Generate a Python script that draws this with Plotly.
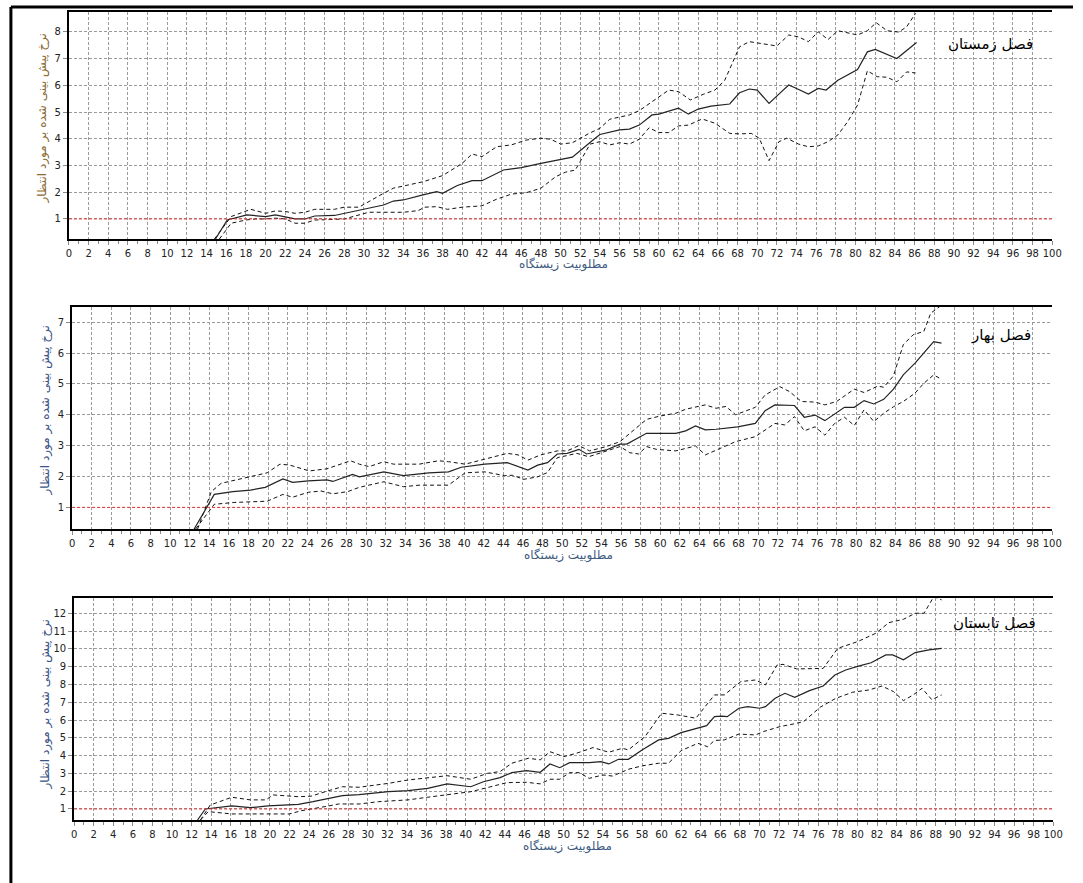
import plotly.graph_objects as go

W, H = 1083, 883

# ---------------- data ----------------
habitat_ticks = list(range(0, 101, 2))
reference_level = 1

# winter (فصل زمستان)
winter_mid_x = [14.9, 16.1, 18.1, 19, 20, 21, 22, 23, 24, 25,
                27, 28, 29.5, 32, 33, 34, 36, 37.4, 38, 39.5,
                41, 42, 44.2, 46, 48, 50, 51.2, 53.3, 54, 56,
                57, 58, 59.3, 60, 62, 63, 64, 65.3, 67.2, 68.2,
                69.2, 70, 71.2, 72.2, 73.2, 74, 75.2, 76.2, 77, 78.2,
                80.2, 81.2, 82, 84.2, 86.2]
winter_mid_y = [0.25, 0.96, 1.15, 1.12, 1.09, 1.15, 1.08, 1.0, 1.0, 1.11,
                1.13, 1.21, 1.31, 1.52, 1.67, 1.71, 1.9, 2.02, 1.96, 2.25,
                2.43, 2.43, 2.83, 2.92, 3.08, 3.24, 3.31, 3.95, 4.16, 4.33,
                4.36, 4.51, 4.89, 4.92, 5.14, 4.92, 5.11, 5.22, 5.3, 5.72,
                5.86, 5.82, 5.32, 5.67, 6.01, 5.88, 5.67, 5.88, 5.82, 6.19,
                6.59, 7.25, 7.34, 7.0, 7.6]
winter_hi_x = [14.8, 16.5, 18.5, 20, 21, 22, 23, 24, 25, 27,
               28, 29.5, 32, 33, 36, 38, 40, 41, 42, 43.5,
               45, 46.5, 48, 49, 50, 51.2, 52.9, 54, 55, 57,
               58, 61, 62, 63.2, 64.5, 65.7, 66.7, 68.2, 69.2, 70.2,
               72, 73.2, 74.2, 75.2, 76.2, 77.2, 78.2, 80.2, 81.2, 82.1,
               83.2, 84.4, 85.2, 86.1]
winter_hi_y = [0.25, 1.09, 1.36, 1.21, 1.3, 1.28, 1.21, 1.25, 1.36, 1.36,
               1.44, 1.44, 1.96, 2.15, 2.39, 2.62, 3.08, 3.43, 3.33, 3.7,
               3.77, 3.95, 4.02, 3.98, 3.8, 3.85, 4.2, 4.39, 4.73, 4.89,
               5.05, 5.82, 5.76, 5.45, 5.66, 5.82, 6.19, 7.44, 7.63, 7.57,
               7.47, 7.88, 7.81, 7.63, 8.0, 7.71, 8.04, 7.88, 8.04, 8.34,
               8.04, 7.99, 8.19, 8.69]
winter_lo_x = [15.3, 16.5, 18, 19, 20, 21, 22, 23, 24, 25,
               26, 28, 29.5, 30.5, 34, 35.5, 36.2, 37.4, 38.5, 40,
               42, 43.5, 45, 46.5, 48, 49.5, 50.5, 51.5, 53, 54,
               55, 56, 57, 58, 59, 60, 61, 62, 63, 64.4,
               65.7, 67.2, 68.2, 69.4, 70.2, 71.2, 72.2, 73, 74.2, 75.2,
               76.2, 77.2, 78.2, 79.2, 80.2, 81.2, 82.2, 83.2, 84.2, 85.2,
               86.1]
winter_lo_y = [0.25, 0.84, 0.96, 1.0, 1.0, 1.03, 1.0, 0.84, 0.84, 0.96,
               0.97, 1.0, 1.15, 1.25, 1.25, 1.31, 1.44, 1.46, 1.36, 1.44,
               1.49, 1.74, 1.93, 1.98, 2.15, 2.58, 2.75, 2.83, 3.8, 3.89,
               3.77, 3.85, 3.8, 3.98, 4.41, 4.23, 4.23, 4.48, 4.51, 4.74,
               4.58, 4.2, 4.18, 4.2, 4.02, 3.18, 3.89, 4.02, 3.8, 3.7,
               3.73, 3.89, 4.14, 4.64, 5.26, 6.54, 6.32, 6.3, 6.13, 6.5,
               6.46]

# spring (فصل بهار)
spring_mid_x = [12.45, 14.5, 16.4, 18.2, 19.7, 21.5, 22.5, 24.1, 26, 26.6,
                28.6, 29.3, 31.8, 33.8, 36.4, 38.4, 39.7, 42.1, 44.4, 46.5,
                47.5, 48.5, 49.5, 50.5, 51.7, 52.5, 54.5, 55.9, 56.6, 58.6,
                61.6, 62.6, 63.6, 64.6, 65.7, 67.9, 69.7, 70.7, 71.7, 73.7,
                74.7, 75.8, 76.8, 77.8, 78.8, 79.8, 80.8, 81.8, 82.8, 83.8,
                84.8, 86, 86.9, 87.9, 88.7]
spring_mid_y = [0.3, 1.42, 1.51, 1.56, 1.65, 1.92, 1.81, 1.86, 1.89, 1.84,
                2.07, 1.99, 2.15, 2.03, 2.12, 2.15, 2.3, 2.4, 2.45, 2.21,
                2.37, 2.45, 2.73, 2.75, 2.88, 2.73, 2.86, 3.05, 3.05, 3.4,
                3.4, 3.48, 3.64, 3.51, 3.53, 3.61, 3.72, 4.13, 4.32, 4.3,
                3.92, 3.99, 3.81, 4.03, 4.24, 4.24, 4.46, 4.35, 4.5, 4.83,
                5.29, 5.67, 5.99, 6.37, 6.32]
spring_hi_x = [12.8, 14.2, 15.2, 18.2, 19.9, 21.2, 22.2, 24.2, 26, 28.4,
               29.3, 30.3, 31.8, 32.8, 35.4, 37.4, 38.4, 40.1, 42.4, 44.4,
               45.5, 46.5, 47.8, 49.5, 50.5, 51.7, 52.8, 54.5, 55.9, 57.3,
               58.6, 60, 61.6, 62.6, 64.6, 65.7, 66.7, 67.7, 69.7, 70.7,
               72.2, 73.2, 74.4, 75.8, 76.8, 78, 79.8, 80.8, 82.2, 82.8,
               83.8, 84.8, 85.8, 86.9, 87.6, 88.5]
spring_hi_y = [0.3, 1.51, 1.78, 1.99, 2.12, 2.4, 2.37, 2.18, 2.25, 2.51,
               2.4, 2.32, 2.48, 2.4, 2.4, 2.51, 2.48, 2.4, 2.59, 2.75,
               2.7, 2.53, 2.7, 2.83, 2.83, 3.0, 2.83, 2.97, 3.13, 3.51,
               3.85, 3.96, 4.05, 4.18, 4.32, 4.21, 4.27, 4.0, 4.24, 4.64,
               4.91, 4.75, 4.43, 4.41, 4.32, 4.43, 4.83, 4.72, 4.93, 4.89,
               5.26, 6.27, 6.59, 6.7, 7.29, 7.5]
spring_lo_x = [12.6, 14.5, 16.5, 19.2, 19.9, 21.5, 22.5, 24.1, 25.4, 26.6,
               28.1, 29.3, 31.8, 33.8, 35.4, 38.4, 40.1, 42.1, 44.1, 44.9,
               46.1, 47.5, 48.5, 49.5, 51.5, 52.7, 54.5, 55.9, 56.9, 57.8,
               58.6, 59.6, 61.6, 63.6, 64.6, 65.7, 67.7, 69.7, 71.7, 72.7,
               73.7, 74.7, 75.8, 76.8, 77.8, 78.8, 79.8, 80.8, 81.8, 82.8,
               83.8, 84.8, 86, 86.9, 87.9, 88.7]
spring_lo_y = [0.3, 1.1, 1.16, 1.2, 1.2, 1.42, 1.33, 1.49, 1.53, 1.44,
               1.51, 1.65, 1.83, 1.67, 1.72, 1.72, 2.12, 2.15, 2.03, 2.04,
               1.91, 1.99, 2.13, 2.61, 2.75, 2.64, 2.83, 2.97, 2.77, 2.73,
               2.97, 2.88, 2.83, 2.99, 2.7, 2.85, 3.13, 3.29, 3.72, 3.67,
               3.94, 3.48, 3.61, 3.34, 3.72, 3.92, 3.65, 4.16, 3.78, 4.05,
               4.26, 4.43, 4.7, 5.02, 5.29, 5.15]

# summer (فصل تابستان)
summer_mid_x = [12.6, 13.4, 16.1, 18, 19.8, 22.9, 24.4, 26, 27.4, 29.1,
                32.1, 34.1, 36.1, 38.1, 39.2, 40.5, 41.8, 43.5, 44.7, 46.2,
                47.6, 48.6, 49.6, 50.6, 52.6, 53.8, 54.6, 55.6, 56.6, 58,
                59.7, 60.7, 62, 63.4, 64.6, 65.4, 66.1, 66.7, 67.9, 68.8,
                70, 70.6, 71.6, 72.6, 73.6, 75.1, 76.5, 77.7, 78.8, 80.2,
                81.4, 82.9, 83.6, 84.7, 85.9, 87.3, 88.6]
summer_mid_y = [0.38, 1.0, 1.17, 1.07, 1.17, 1.26, 1.41, 1.6, 1.75, 1.81,
                1.97, 2.03, 2.16, 2.41, 2.35, 2.25, 2.53, 2.76, 3.04, 3.15,
                3.06, 3.53, 3.32, 3.6, 3.6, 3.66, 3.53, 3.79, 3.79, 4.32,
                4.88, 4.97, 5.29, 5.5, 5.68, 6.19, 6.22, 6.19, 6.66, 6.75,
                6.66, 6.75, 7.22, 7.5, 7.28, 7.65, 7.91, 8.53, 8.81, 9.04,
                9.22, 9.66, 9.66, 9.38, 9.79, 9.94, 10.03]
summer_hi_x = [12.9, 13.9, 16.1, 18, 19.6, 20.3, 22.9, 24.2, 26, 27.4,
               29.1, 32.1, 34.1, 36.1, 38.1, 40.5, 42.2, 43.5, 44.7, 46.4,
               47.6, 48.6, 50, 51.3, 53, 54.6, 56, 56.6, 58.3, 60,
               61.7, 63.5, 65.4, 66.4, 68.1, 69.6, 70.6, 71.8, 72.4, 73.8,
               75.1, 76.5, 78, 80, 81.9, 83.2, 84.7, 85.9, 86.8, 87.8,
               88.6]
summer_hi_y = [0.38, 1.22, 1.66, 1.51, 1.51, 1.79, 1.69, 1.72, 2.03, 2.25,
               2.22, 2.44, 2.63, 2.76, 2.87, 2.67, 3.0, 3.1, 3.57, 3.85,
               3.76, 4.22, 3.94, 4.13, 4.45, 4.19, 4.41, 4.32, 5.06, 6.38,
               6.28, 6.1, 7.41, 7.41, 8.16, 8.25, 7.97, 9.09, 9.13, 8.87,
               8.9, 8.9, 10.03, 10.4, 10.88, 11.47, 11.66, 12.0, 12.0, 12.93,
               12.75]
summer_lo_x = [12.9, 13.7, 16.1, 18.3, 22, 23.2, 24.4, 26, 27, 29.1,
               31.1, 34.1, 36.1, 38.1, 40.5, 42.2, 44.2, 46.2, 47.6, 48.6,
               49.6, 50.6, 51.6, 52.6, 54, 55, 56.6, 58, 59.7, 60.7,
               62, 63.7, 64.7, 65.4, 66.4, 67.9, 69.6, 70.4, 72.1, 73.5,
               74.5, 76.2, 77.8, 79.5, 81.2, 82.5, 83.7, 84.7, 85.7, 86.6,
               87.6, 88.6]
summer_lo_y = [0.38, 0.85, 0.72, 0.72, 0.72, 0.9, 1.0, 1.17, 1.28, 1.28,
               1.41, 1.51, 1.66, 1.82, 1.97, 2.2, 2.48, 2.5, 2.41, 2.67,
               2.67, 3.04, 3.04, 2.72, 2.91, 2.85, 3.23, 3.42, 3.57, 3.57,
               4.28, 4.69, 4.5, 4.85, 4.88, 5.21, 5.16, 5.35, 5.63, 5.78,
               5.91, 6.72, 7.22, 7.56, 7.69, 7.91, 7.59, 7.09, 7.41, 7.78,
               7.14, 7.41]

season_names = ["فصل زمستان", "فصل بهار", "فصل تابستان"]
y_title = "نرخ پیش بینی شده بر مورد انتظار"
x_title = "مطلوبیت زیستگاه"

# ---------------- layout helpers ----------------
FONT = "DejaVu Sans"

panels = [
    dict(series=[(winter_mid_x, winter_mid_y), (winter_hi_x, winter_hi_y), (winter_lo_x, winter_lo_y)],
         box=(66.7, 1062, 12, 239), yrange=[0.25, 8.74], ytop=8,
         ytitle_pos=(40, 119), ytitle_color="#8a6a30",
         xtitle_pos=(567, 264), season_pos=(1045, 44)),
    dict(series=[(spring_mid_x, spring_mid_y), (spring_hi_x, spring_hi_y), (spring_lo_x, spring_lo_y)],
         box=(70, 1062, 306.7, 529), yrange=[0.3, 7.5], ytop=7,
         ytitle_pos=(43, 410), ytitle_color="#3b5488",
         xtitle_pos=(572, 555), season_pos=(1043, 335)),
    dict(series=[(summer_mid_x, summer_mid_y), (summer_hi_x, summer_hi_y), (summer_lo_x, summer_lo_y)],
         box=(72, 1063, 598.3, 820), yrange=[0.38, 12.84], ytop=12,
         ytitle_pos=(43, 704), ytitle_color="#3b5488",
         xtitle_pos=(571, 846), season_pos=(1048, 623)),
]

fig = go.Figure()
layout = dict(width=W, height=H, autosize=False,
              margin=dict(l=0, r=0, t=0, b=0),
              paper_bgcolor="white", plot_bgcolor="white",
              showlegend=False, font=dict(family=FONT, size=10, color="#222222"))
annotations = []
shapes = []

grid_color = "#9a9a9a"

for i, p in enumerate(panels, start=1):
    sfx = "" if i == 1 else str(i)
    xa, ya = "x" + sfx, "y" + sfx
    x0, x1, y0, y1 = p["box"]

    layout["xaxis" + sfx] = dict(
        domain=[x0 / W, x1 / W], range=[0, 100], anchor=ya,
        tickmode="array", tickvals=habitat_ticks, ticktext=[str(t) for t in habitat_ticks],
        showgrid=True, gridcolor=grid_color, griddash="3px,2px", gridwidth=1,
        showline=True, linecolor="black", linewidth=2, mirror=True,
        ticks="outside", ticklen=4, tickcolor="#8a8a8a", tickwidth=1,
        minor=dict(dtick=1, ticks="outside", ticklen=3, tickcolor="#8a8a8a", showgrid=False),
        tickfont=dict(family=FONT, size=10, color="#222222"),
        zeroline=False, fixedrange=True,
    )
    layout["yaxis" + sfx] = dict(
        domain=[1 - y1 / H, 1 - y0 / H], range=p["yrange"], anchor=xa,
        tickmode="array", tickvals=list(range(1, p["ytop"] + 1)),
        showgrid=True, gridcolor=grid_color, griddash="3px,2px", gridwidth=1,
        showline=True, linecolor="black", linewidth=2, mirror=False,
        ticks="outside", ticklen=4, tickcolor="#8a8a8a", tickwidth=1,
        tickfont=dict(family=FONT, size=10, color="#222222"),
        zeroline=False, fixedrange=True,
    )

    # expected-rate reference line
    shapes.append(dict(type="line", xref=xa + " domain", yref=ya,
                       x0=0, x1=1, y0=reference_level, y1=reference_level,
                       line=dict(color="#e8393a", width=1, dash="3px,2px"), layer="above"))

    (mx, my), (hx, hy), (lx, ly) = p["series"]
    fig.add_trace(go.Scatter(x=hx, y=hy, xaxis=xa, yaxis=ya, mode="lines",
                             line=dict(color="#111111", width=1, dash="4px,3px"),
                             hoverinfo="skip"))
    fig.add_trace(go.Scatter(x=lx, y=ly, xaxis=xa, yaxis=ya, mode="lines",
                             line=dict(color="#111111", width=1, dash="4px,3px"),
                             hoverinfo="skip"))
    fig.add_trace(go.Scatter(x=mx, y=my, xaxis=xa, yaxis=ya, mode="lines",
                             line=dict(color="#222222", width=1.2),
                             hoverinfo="skip"))

    tx, ty = p["ytitle_pos"]
    annotations.append(dict(text=y_title, xref="paper", yref="paper",
                            x=tx / W, y=1 - ty / H, xanchor="center", yanchor="middle",
                            textangle=-90, showarrow=False,
                            font=dict(family=FONT, size=12, color=p["ytitle_color"])))
    tx, ty = p["xtitle_pos"]
    annotations.append(dict(text=x_title, xref="paper", yref="paper",
                            x=tx / W, y=1 - ty / H, xanchor="center", yanchor="middle",
                            showarrow=False,
                            font=dict(family=FONT, size=12, color="#3d5a80")))
    tx, ty = p["season_pos"]
    annotations.append(dict(text=season_names[i - 1], xref="paper", yref="paper",
                            x=tx / W, y=1 - ty / H, xanchor="right", yanchor="middle",
                            showarrow=False,
                            font=dict(family=FONT, size=15, color="black")))

# outer frame (top and left edges)
shapes.append(dict(type="line", xref="paper", yref="paper",
                   x0=8 / W, x1=1, y0=1 - 7 / H, y1=1 - 7 / H,
                   line=dict(color="black", width=3)))
shapes.append(dict(type="line", xref="paper", yref="paper",
                   x0=8 / W, x1=8 / W, y0=0, y1=1 - 7 / H,
                   line=dict(color="black", width=3)))

layout["annotations"] = annotations
layout["shapes"] = shapes
fig.update_layout(**layout)

fig.write_html(
    "out.html",
    config={"displayModeBar": False},
    post_script="document.body.style.margin='0';document.body.style.overflow='hidden';",
)
